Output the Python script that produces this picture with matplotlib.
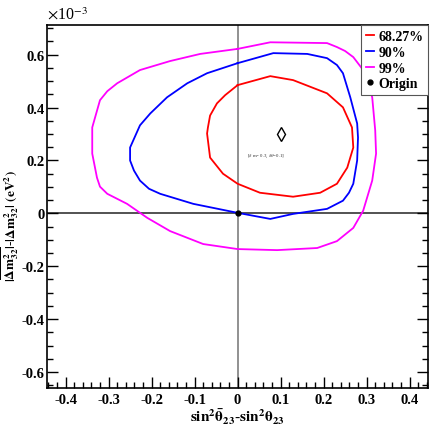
import numpy as np
import matplotlib.pyplot as plt
from matplotlib.ticker import MultipleLocator, FormatStrFormatter

plt.rcParams['font.family'] = ['Liberation Serif', 'DejaVu Serif']
plt.rcParams['mathtext.fontset'] = 'stix'

# contours in (sin2 diff, dm2 diff [1e-3 eV^2])
x99 = [0.000, 0.076, 0.208, 0.231, 0.250, 0.269, 0.292, 0.303, 0.313, 0.320, 0.322, 0.313,
       0.292, 0.269, 0.231, 0.185, 0.092, 0.000, -0.080, -0.157, -0.210, -0.257, -0.303,
       -0.320, -0.327, -0.338, -0.338, -0.320, -0.303, -0.280, -0.227, -0.157, -0.087]
y99 = [0.622, 0.647, 0.644, 0.629, 0.614, 0.591, 0.542, 0.496, 0.439, 0.314, 0.226, 0.124,
       0.010, -0.055, -0.105, -0.131, -0.139, -0.135, -0.116, -0.067, -0.017, 0.036, 0.074,
       0.101, 0.135, 0.226, 0.325, 0.428, 0.462, 0.492, 0.542, 0.576, 0.603]

x90 = [0.000, 0.083, 0.162, 0.208, 0.231, 0.245, 0.262, 0.278, 0.280, 0.278, 0.269, 0.259,
       0.245, 0.208, 0.129, 0.076, 0.000, -0.103, -0.180, -0.206, -0.227, -0.241, -0.250,
       -0.250, -0.227, -0.203, -0.164, -0.117, -0.071]
y90 = [0.568, 0.606, 0.603, 0.587, 0.561, 0.530, 0.439, 0.340, 0.287, 0.200, 0.112, 0.078,
       0.048, 0.017, -0.002, -0.021, 0.002, 0.036, 0.074, 0.093, 0.124, 0.162, 0.200,
       0.249, 0.333, 0.378, 0.439, 0.492, 0.530]

x68 = [0.000, 0.076, 0.129, 0.208, 0.245, 0.266, 0.269, 0.255, 0.231, 0.192, 0.129, 0.052,
       0.000, -0.017, -0.034, -0.064, -0.071, -0.069, -0.064, -0.048, -0.029]
y68 = [0.485, 0.519, 0.504, 0.454, 0.401, 0.325, 0.249, 0.173, 0.112, 0.078, 0.063, 0.078,
       0.112, 0.131, 0.150, 0.211, 0.302, 0.325, 0.370, 0.416, 0.447]

true_pt = (0.1, 0.3)
true_label = r'[$\delta$ m= 0.3, $\delta\theta$=0.1]'


def closed(xs, ys):
    return list(xs) + [xs[0]], list(ys) + [ys[0]]


fig = plt.figure(figsize=(4.32, 4.35), dpi=100)
ax = fig.add_axes([0.109, 0.106, 0.882, 0.834])

ax.axhline(0, color='#444444', lw=1.3, zorder=1)
ax.axvline(0, color='#888888', lw=1.3, zorder=1)

for xs, ys, c, lab in [(x68, y68, 'red', '68.27%'), (x90, y90, 'blue', '90%'),
                       (x99, y99, 'magenta', '99%')]:
    cx, cy = closed(xs, ys)
    ax.plot(cx, cy, color=c, lw=1.3, label=lab, zorder=2)

ax.plot([0], [0], 'o', color='black', ms=3.5, ls='none', label='Origin', zorder=3)
ax.plot([true_pt[0]], [true_pt[1]], 'd', mfc='white', mec='black', ms=7.5, mew=1, zorder=3)
ax.text(true_pt[0] - 0.035, true_pt[1] - 0.08, true_label, fontsize=3.5, color='#333333',
        ha='center', va='center')

ax.set_xlim(-0.443, 0.443)
ax.set_ylim(-0.66, 0.712)

ax.xaxis.set_major_locator(MultipleLocator(0.1))
ax.xaxis.set_minor_locator(MultipleLocator(0.02))
ax.yaxis.set_major_locator(MultipleLocator(0.2))
ax.yaxis.set_minor_locator(MultipleLocator(0.05))
ax.xaxis.set_major_formatter(FormatStrFormatter('%g'))
ax.yaxis.set_major_formatter(FormatStrFormatter('%g'))
ax.tick_params(which='both', direction='in', right=True, top=False, labelsize=10.5)
ax.tick_params(axis='y', pad=2)
ax.tick_params(which='major', length=8, width=1)
ax.tick_params(which='minor', length=4, width=1)
for lbl in ax.get_xticklabels() + ax.get_yticklabels():
    lbl.set_fontweight('bold')
for s in ax.spines.values():
    s.set_linewidth(1.2)

ax.set_xlabel(r'$\mathbf{sin^2\bar{\theta}_{23}}$-$\mathbf{sin^2\theta_{23}}$',
              fontsize=11, labelpad=1)
ax.set_ylabel(r'$\mathbf{|\overline{\Delta m^2_{32}}|}$-$\mathbf{|\Delta m^2_{32}|}$ '
              r'$\mathbf{(eV^2)}$', fontsize=9.5)
ax.yaxis.set_label_coords(-0.068, 0.45)
fig.text(0.108, 0.955, r'$\times$10$^{-3}$', fontsize=11.5)

leg = ax.legend(loc='upper right', bbox_to_anchor=(1, 1), borderaxespad=0, fancybox=False,
                framealpha=1, edgecolor='#555555', prop={'weight': 'bold', 'size': 10},
                handlelength=0.6, handletextpad=0.3, labelspacing=0.2, borderpad=0.35)
leg.get_frame().set_linewidth(0.8)

fig.savefig('out.png', dpi=100)
